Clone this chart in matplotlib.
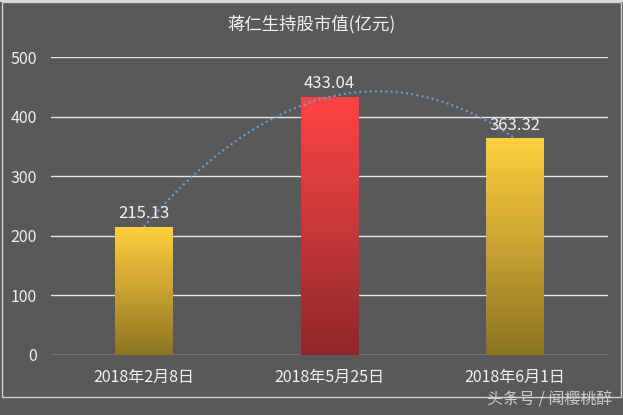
import numpy as np
import matplotlib
matplotlib.use("Agg")
import matplotlib.pyplot as plt
from matplotlib.colors import LinearSegmentedColormap
from matplotlib.patches import Rectangle

plt.rcParams['font.family'] = ['Noto Sans CJK SC', 'DejaVu Sans']

categories = ["2018年2月8日", "2018年5月25日", "2018年6月1日"]
values = [215.13, 433.04, 363.32]
labels = ["215.13", "433.04", "363.32"]
title = "蒋仁生持股市值(亿元)"
watermark = "头条号 / 闻樱桃醉"

bg = "#595959"
txt = "#F2F2F2"
yellow = LinearSegmentedColormap.from_list("y", ["#8C7420", "#C9A232", "#FFCF3C"])
red = LinearSegmentedColormap.from_list("r", ["#8E2629", "#C9383A", "#FF4444"])
cmaps = [yellow, red, yellow]

fig = plt.figure(figsize=(6.23, 4.15), dpi=100)
fig.patch.set_facecolor(bg)
ax = fig.add_axes([0.0819, 0.1446, 0.894, 0.718])
ax.set_facecolor(bg)

x = np.arange(len(categories))
width = 0.31
bars = ax.bar(x, values, width=width, color="none", zorder=3)
grad = np.linspace(0, 1, 256).reshape(-1, 1)
for b, cm in zip(bars, cmaps):
    x0, w, h = b.get_x(), b.get_width(), b.get_height()
    im = ax.imshow(grad, cmap=cm, origin="lower", aspect="auto",
                   extent=[x0, x0 + w, 0, h], zorder=3)
    im.set_clip_path(b)

for xi, v, lab in zip(x, values, labels):
    ax.text(xi, v + 22, lab, ha="center", va="center", color=txt, fontsize=12, zorder=5)

# polynomial (order 2) trendline
coef = np.polyfit(x, values, 2)
xs = np.linspace(0, 2, 200)
ax.plot(xs, np.polyval(coef, xs), linestyle=(0, (1, 1.5)), color="#6A9FD8",
        linewidth=1.5, zorder=4)

ax.set_xlim(-0.5, 2.5)
ax.set_ylim(0, 500)
ax.set_yticks(np.arange(0, 501, 100))
ax.set_xticks(x)
ax.set_xticklabels(categories)
ax.yaxis.grid(True, color="#E6E6E6", linewidth=1, zorder=1)
ax.set_axisbelow(True)
for s in ax.spines.values():
    s.set_visible(False)
ax.tick_params(axis="both", length=0, colors=txt, labelsize=11.5)
ax.tick_params(axis="x", pad=10)
ax.tick_params(axis="y", pad=10)

fig.text(0.5, 0.942, title, ha="center", va="center", color=txt, fontsize=12.5)

# outer chart frame
fig.patches.append(Rectangle((0.004, 0.043), 0.992, 0.952, transform=fig.transFigure,
                             fill=False, edgecolor="#D0D0D0", linewidth=1))
fig.patches.append(Rectangle((0, 0.995), 1, 0.005, transform=fig.transFigure,
                             facecolor="#DADADA", edgecolor="none"))

fig.text(0.983, 0.035, watermark, ha="right", va="center", color="#D8D8D8",
         fontsize=11.5, alpha=0.9)

fig.savefig("out.png", dpi=100, facecolor=bg)
